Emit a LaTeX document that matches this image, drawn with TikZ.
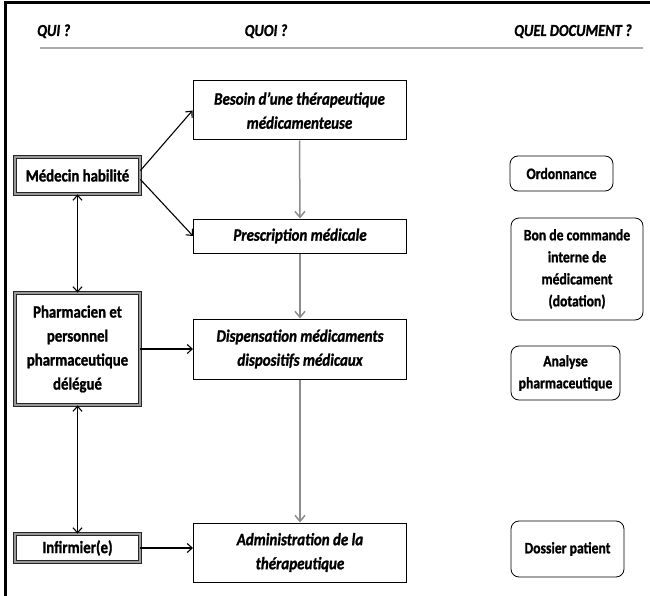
\documentclass[tikz,border=0pt]{standalone}
\usepackage{fontspec}
\setmainfont{Carlito}[FakeStretch=0.86, BoldFeatures={FakeBold=1.2}, BoldItalicFeatures={FakeBold=1.2}]
\usetikzlibrary{arrows.meta,calc}

\begin{document}
\begin{tikzpicture}[x=1pt,y=-1pt,
  every node/.style={inner sep=0pt, align=center, font=\fontsize{17.2}{24}\selectfont\bfseries},
  actor/.style={draw=black!85, double=black!40, line width=0.9pt, double distance=1.4pt,
                minimum width=125pt},
  task/.style={draw=black, line width=1pt, minimum width=213pt,
               font=\fontsize{17.4}{24}\selectfont\bfseries\itshape},
  doc/.style={draw=black, line width=0.8pt, rounded corners=8pt,
              font=\fontsize{15.9}{22}\selectfont\bfseries},
  head/.style={font=\fontsize{16.8}{18}\selectfont\bfseries\itshape},
  link/.style={line width=1.1pt, -{Straight Barb[length=5pt,width=9pt]}},
  both/.style={line width=1.1pt, {Straight Barb[length=5pt,width=9pt]}-{Straight Barb[length=5pt,width=9pt]}},
  flow/.style={draw=black!45, line width=1.5pt, -{Straight Barb[length=6pt,width=10pt]}},
  headrule/.style={draw=black!33, line width=2.2pt}
]
\useasboundingbox (0,0) rectangle (650,596);

% outer frame (left and top edges)
\draw[line width=3pt] (5,596) -- (5,3) -- (650,3);

% column headings and the rule beneath them
\node[head, anchor=base west] (qui)  at (37,36)  {QUI ?};
\node[head, anchor=base]      (quoi) at (266,36) {QUOI ?};
\node[head, anchor=base east] (quel) at (632,36) {QUEL DOCUMENT ?};
\draw[headrule] (40,48) -- (643,48);

% who
\node[actor, minimum height=37pt]  (medecin) at (77.5,175.5) {Médecin habilité};
\node[actor, minimum height=112pt] (pharma)  at (77.5,349)   {Pharmacien et\\personnel\\pharmaceutique\\délégué};
\node[actor, minimum height=28pt]  (infirm)  at (77.5,548)   {Infirmier(e)};

% what
\node[task, minimum height=59pt] (besoin) at (299.5,110.5) {Besoin d’une thérapeutique\\médicamenteuse};
\node[task, minimum height=34pt] (prescr) at (300,236)     {Prescription médicale};
\node[task, minimum height=60pt] (disp)   at (300,349)     {Dispensation médicaments\\dispositifs médicaux};
\node[task, minimum height=59pt] (admin)  at (300,552.5)   {Administration de la\\thérapeutique};

% which document
\node[doc, minimum width=103pt, minimum height=35pt]  (ordo)    at (561.5,173.5) {Ordonnance};
\node[doc, minimum width=132pt, minimum height=102pt] (bon)     at (577,269)     {Bon de commande\\interne de\\médicament\\(dotation)};
\node[doc, minimum width=109pt, minimum height=54pt]  (analyse) at (565.5,373)   {Analyse\\pharmaceutique};
\node[doc, minimum width=113pt, minimum height=56pt]  (dossier) at (567.5,549)   {Dossier patient};

% process flow
\draw[flow] (besoin.south) -- (prescr.north);
\draw[flow] (prescr.south) -- (disp.north);
\draw[flow] (disp.south)   -- (admin.north);

% responsibilities
\draw[link] ($(medecin.east)+(0,-5)$) -- (besoin.west);
\draw[link] ($(medecin.east)+(0,4)$)  -- (prescr.west);
\draw[link] (pharma.east) -- (disp.west);
\draw[link] (infirm.east) -- (infirm.east -| admin.west);
\draw[both] (medecin.south) -- (pharma.north);
\draw[both] (pharma.south)  -- (infirm.north);
\end{tikzpicture}
\end{document}
